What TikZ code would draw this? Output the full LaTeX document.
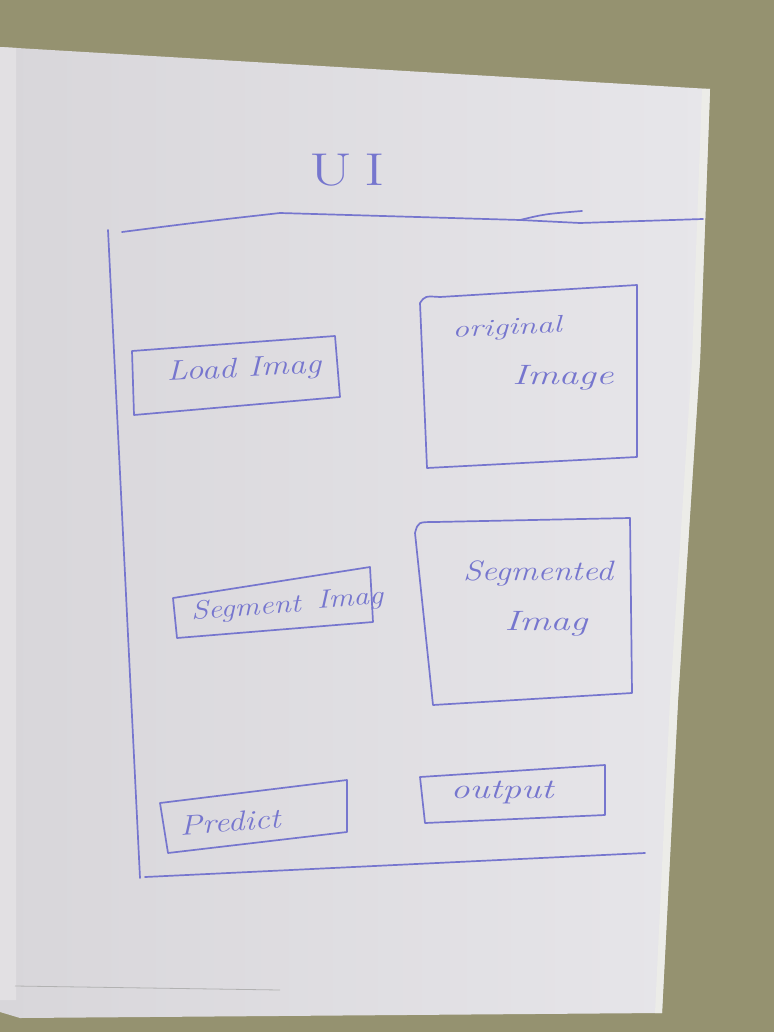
\documentclass[tikz,border=0pt]{standalone}
\usetikzlibrary{calc}
\definecolor{wall}{RGB}{149,146,112}
\definecolor{paperL}{RGB}{216,214,218}
\definecolor{paperR}{RGB}{231,230,234}
\definecolor{paperedge}{RGB}{236,236,232}
\definecolor{pen}{RGB}{118,118,206}
\tikzset{
  penline/.style={draw=pen, line width=1.7pt, line cap=round, line join=round},
  hand/.style={text=pen, inner sep=0pt, font=\itshape\fontsize{28}{30}\selectfont},
}
\begin{document}
\begin{tikzpicture}[x=1pt,y=-1pt]
\useasboundingbox (0,0) rectangle (774,1032);
% wall behind the sheet
\fill[wall] (0,0) rectangle (774,1032);
% sheet of paper
\shade[left color=paperL, right color=paperR]
  (0,47) -- (710,89) -- (700,360) -- (678,700) -- (662,1013) -- (20,1018) -- (0,1012) -- cycle;
\fill[paperedge] (710,89) -- (700,360) -- (678,700) -- (662,1013) -- (655,1013) -- (670,700) -- (692,360) -- (702,89) -- cycle;
\fill[paperL!75!white] (0,47) -- (16,48) -- (16,1000) -- (0,1000) -- cycle;
\draw[gray!60, line width=0.8pt] (15,986) -- (280,990);

% frame of the screen
\coordinate (ftl) at (108,230);
\coordinate (fbl) at (140,878);
\coordinate (fbr) at (645,853);
\coordinate (ftr) at (703,219);
\coordinate (fk) at (520,220);
\coordinate (fkt) at (582,211);
\draw[penline] (122,232) .. controls (200,222) .. (280,213) -- (fk) -- (580,223) -- (ftr);
\draw[penline] (fk) .. controls (545,214) .. (fkt);
\draw[penline] (ftl) -- (fbl);
\draw[penline] (145,877) -- (fbr);

% title
\node[hand, font=\fontsize{46}{50}\selectfont, xscale=1.35] (title) at (347,170) {U\kern9pt I};

% Load Imag button
\draw[penline] (132,351) -- (335,336) -- (340,397) -- (134,415) -- cycle;
\node[hand, rotate=3, xscale=1.23] (load) at (244,370) {Load Imag};

% original image panel
\draw[penline] (420,303) .. controls (425,296) .. (440,297) -- (637,285) -- (637,457) -- (427,468) -- cycle;
\node[hand, font=\itshape\fontsize{24}{26}\selectfont, rotate=3, xscale=1.4] (orig1) at (507,329) {original};
\node[hand, xscale=1.4] (orig2) at (563,378) {Image};

% Segment Imag button (label runs over its right edge)
\draw[penline] (173,598) -- (370,567) -- (373,622) -- (177,638) -- cycle;
\node[hand, font=\itshape\fontsize{26}{28}\selectfont, rotate=4, xscale=1.2] (seg1) at (246,609) {Segment};
\node[hand, font=\itshape\fontsize{26}{28}\selectfont, rotate=4, xscale=1.2] (seg2) at (350,600) {Imag};

% segmented image panel
\draw[penline] (415,533) .. controls (418,522) .. (435,522) -- (630,518) -- (632,693) -- (433,705) -- cycle;
\node[hand, xscale=1.21] (segd1) at (538,573) {Segmented};
\node[hand, xscale=1.39] (segd2) at (546,624) {Imag};

% Predict button
\draw[penline] (160,803) -- (347,780) -- (347,832) -- (168,853) -- cycle;
\node[hand, rotate=4, xscale=1.2] (pred) at (230,822) {Predict};

% output panel
\draw[penline] (420,777) -- (605,765) -- (605,815) -- (425,823) -- cycle;
\node[hand, xscale=1.36] (out) at (502,792) {output};
\end{tikzpicture}
\end{document}
